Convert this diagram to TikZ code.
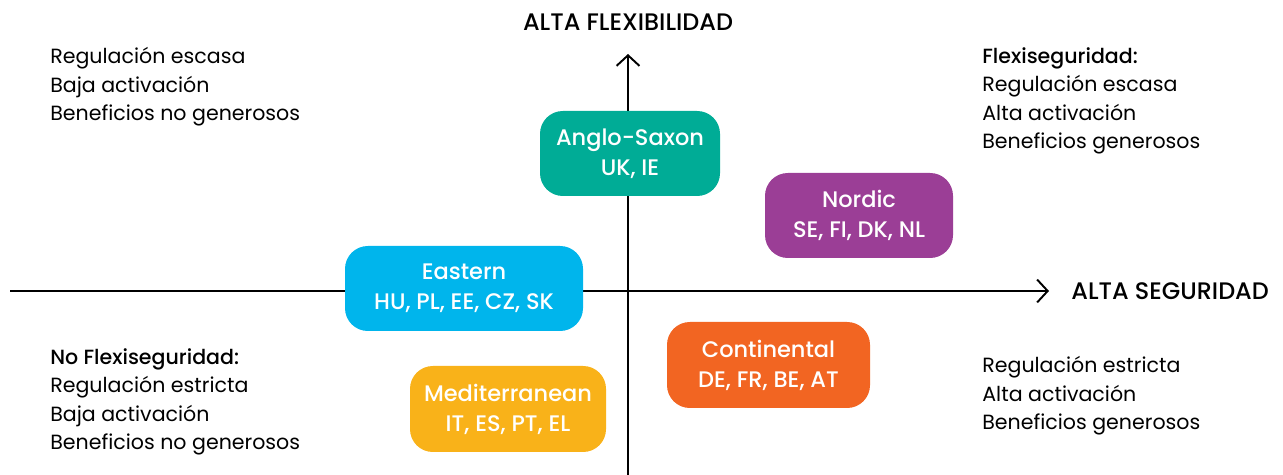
\documentclass[tikz,border=0pt]{standalone}
\usepackage{fontspec}
\setmainfont{Poppins}[BoldFont={Poppins Medium}]
\usetikzlibrary{arrows.meta}
\definecolor{anglo}{RGB}{0,172,150}
\definecolor{nordic}{RGB}{155,62,150}
\definecolor{eastern}{RGB}{0,181,236}
\definecolor{conti}{RGB}{242,101,34}
\definecolor{medit}{RGB}{249,178,25}
\tikzset{
  axis/.style={line width=1.1pt,-{Straight Barb[length=6pt,width=13pt,line width=1.1pt]}},
  regime/.style={rounded corners=13pt,text=white,align=center,font=\fontsize{12.8pt}{17pt}\selectfont\bfseries,inner sep=0pt},
  note/.style={anchor=north west,align=left,inner sep=0pt,font=\fontsize{11.7pt}{16.2pt}\selectfont},
  axlabel/.style={font=\fontsize{13.6pt}{14pt}\selectfont\bfseries,inner sep=0pt}
}
\begin{document}
\begin{tikzpicture}[x=0.02cm,y=-0.02cm]
 \useasboundingbox (0,0) rectangle (1283,475);
 \coordinate (west) at (10,291);
 \coordinate (east) at (1049,291);
 \coordinate (south) at (628,475);
 \coordinate (north) at (628,54);
 \draw[axis](west)--(east);
 \draw[axis](south)--(north);
 \node[axlabel] (flex) at (628,22) {ALTA FLEXIBILIDAD};
 \node[axlabel,anchor=west] (seg) at (1071,291) {ALTA SEGURIDAD};
 \node[regime,fill=anglo,minimum width=180*0.02cm,minimum height=85*0.02cm] (anglo) at (630,153.5) {Anglo-Saxon\\UK, IE};
 \node[regime,fill=nordic,minimum width=188*0.02cm,minimum height=85*0.02cm] (nordic) at (859,215.5) {Nordic\\SE, FI, DK, NL};
 \node[regime,fill=eastern,minimum width=238*0.02cm,minimum height=85*0.02cm] (eastern) at (464,288.5) {Eastern\\HU, PL, EE, CZ, SK};
 \node[regime,fill=conti,minimum width=203*0.02cm,minimum height=86*0.02cm] (conti) at (768.5,365) {Continental\\DE, FR, BE, AT};
 \node[regime,fill=medit,minimum width=196*0.02cm,minimum height=86*0.02cm] (medit) at (508,409) {Mediterranean\\IT, ES, PT, EL};
 \node[note] (tl) at (50,47) {Regulación escasa\\Baja activación\\Beneficios no generosos};
 \node[note] (tr) at (982,47) {\textbf{Flexiseguridad:}\\Regulación escasa\\Alta activación\\Beneficios generosos};
 \node[note] (bl) at (50,348) {\textbf{No Flexiseguridad:}\\Regulación estricta\\Baja activación\\Beneficios no generosos};
 \node[note] (br) at (982,356) {Regulación estricta\\Alta activación\\Beneficios generosos};
\end{tikzpicture}
\end{document}
